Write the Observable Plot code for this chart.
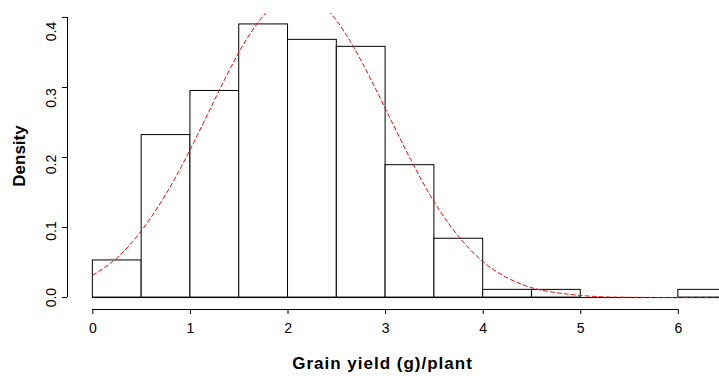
<!DOCTYPE html>
<html>
<head>
<meta charset="utf-8">
<script src="https://cdn.jsdelivr.net/npm/d3@7"></script>
<script src="https://cdn.jsdelivr.net/npm/@observablehq/plot@0.6"></script>
<style>
  html, body { margin: 0; padding: 0; background: #fff; overflow: hidden; }
  #chart svg { display: block; overflow: hidden; }
  .xtitle text { letter-spacing: 1px; }
</style>
</head>
<body>
<div id="chart"></div>
<script>
// Histogram bins (Grain yield in g per plant) and densities
const binEdges = [0, 0.5, 1, 1.5, 2, 2.5, 3, 3.5, 4, 4.5, 5, 5.5, 6, 6.5];
const densities = [0.053, 0.232, 0.295, 0.390, 0.368, 0.358, 0.189, 0.084, 0.011, 0.011, 0, 0, 0.011];

// Fitted normal density curve
const curveX = [0, 0.25, 0.5, 0.75, 1, 1.25, 1.5, 1.75, 2, 2.25, 2.5, 2.75, 3, 3.25, 3.5, 3.75, 4, 4.25, 4.5, 4.75, 5, 5.25, 5.5, 5.75, 6, 6.25, 6.5, 6.75];
const curveY = [0.032, 0.057, 0.096, 0.148, 0.212, 0.283, 0.351, 0.403, 0.431, 0.428, 0.395, 0.338, 0.269, 0.199, 0.136, 0.087, 0.051, 0.028, 0.014, 0.007, 0.003, 0.001, 0.0005, 0.0002, 0, 0, 0, 0];

// Axis ticks and labels
const xTicks = [0, 1, 2, 3, 4, 5, 6];
const yTicks = [0, 0.1, 0.2, 0.3, 0.4];
const xTitle = "Grain yield (g)/plant";
const yTitle = "Density";

const bins = densities.map((d, i) => ({x1: binEdges[i], x2: binEdges[i + 1], y: d}));
const curve = curveX.map((x, i) => ({x, y: curveY[i]}));

// R-style 4% padding of the plot region
const xMin = binEdges[0], xMax = binEdges[binEdges.length - 1];
const xPad = (xMax - xMin) * 0.04;
const yMax = d3.max(densities);
const yPad = yMax * 0.04;
const xLo = xMin - xPad, xHi = xMax + xPad;
const yLo = 0 - yPad, yHi = yMax + yPad;

const font = "'Liberation Sans', Arial, Helvetica, sans-serif";

const chart = Plot.plot({
  width: 719,
  height: 376,
  marginTop: 13,
  marginBottom: 68,
  marginLeft: 67,
  marginRight: 0,
  style: {fontFamily: font, background: "#fff", color: "#000"},
  x: {domain: [xLo, xHi], range: [67, 752], axis: null},
  y: {domain: [yLo, yHi], axis: null},
  marks: [
    // bars
    Plot.rect(bins, {x1: "x1", x2: "x2", y1: 0, y2: "y", fill: "white", stroke: "black", strokeWidth: 1, inset: 0}),
    Plot.ruleY([0], {x1: xMin, x2: xMax, stroke: "black", strokeWidth: 1}),
    // normal curve
    Plot.line(curve, {x: "x", y: "y", stroke: "red", strokeWidth: 1, strokeDasharray: "4,3", curve: "natural", clip: true}),
    // y axis
    Plot.ruleX([xLo], {y1: yTicks[0], y2: yTicks[yTicks.length - 1], stroke: "black", strokeWidth: 1}),
    Plot.axisY(yTicks, {anchor: "left", tickSize: 5, tickFormat: () => "", label: null, stroke: "black"}),
    Plot.text(yTicks, {y: d => d * 0.95, frameAnchor: "left", dx: -16, rotate: -90, text: d => d.toFixed(1), textAnchor: "middle", lineAnchor: "middle", fontSize: 14, fill: "black"}),
    // x axis
    Plot.ruleY([yLo], {x1: xTicks[0], x2: xTicks[xTicks.length - 1], stroke: "black", strokeWidth: 1, dy: 1}),
    Plot.axisX(xTicks, {anchor: "bottom", tickSize: 5, tickPadding: 9, dy: 1, fontSize: 14, label: null, tickFormat: d => String(d), stroke: "black", fill: "black"}),
    // titles
    Plot.text([xTitle], {frameAnchor: "bottom", dx: -11, dy: 55, text: d => d, fontSize: 17, fontWeight: "bold", textAnchor: "middle", lineAnchor: "middle", fill: "black", className: "xtitle"}),
    Plot.text([yTitle], {frameAnchor: "left", dx: -48, dy: -5, rotate: -90, text: d => d, fontSize: 17, fontWeight: "bold", textAnchor: "middle", lineAnchor: "middle", fill: "black"})
  ]
});
document.getElementById("chart").append(chart);
</script>
</body>
</html>
